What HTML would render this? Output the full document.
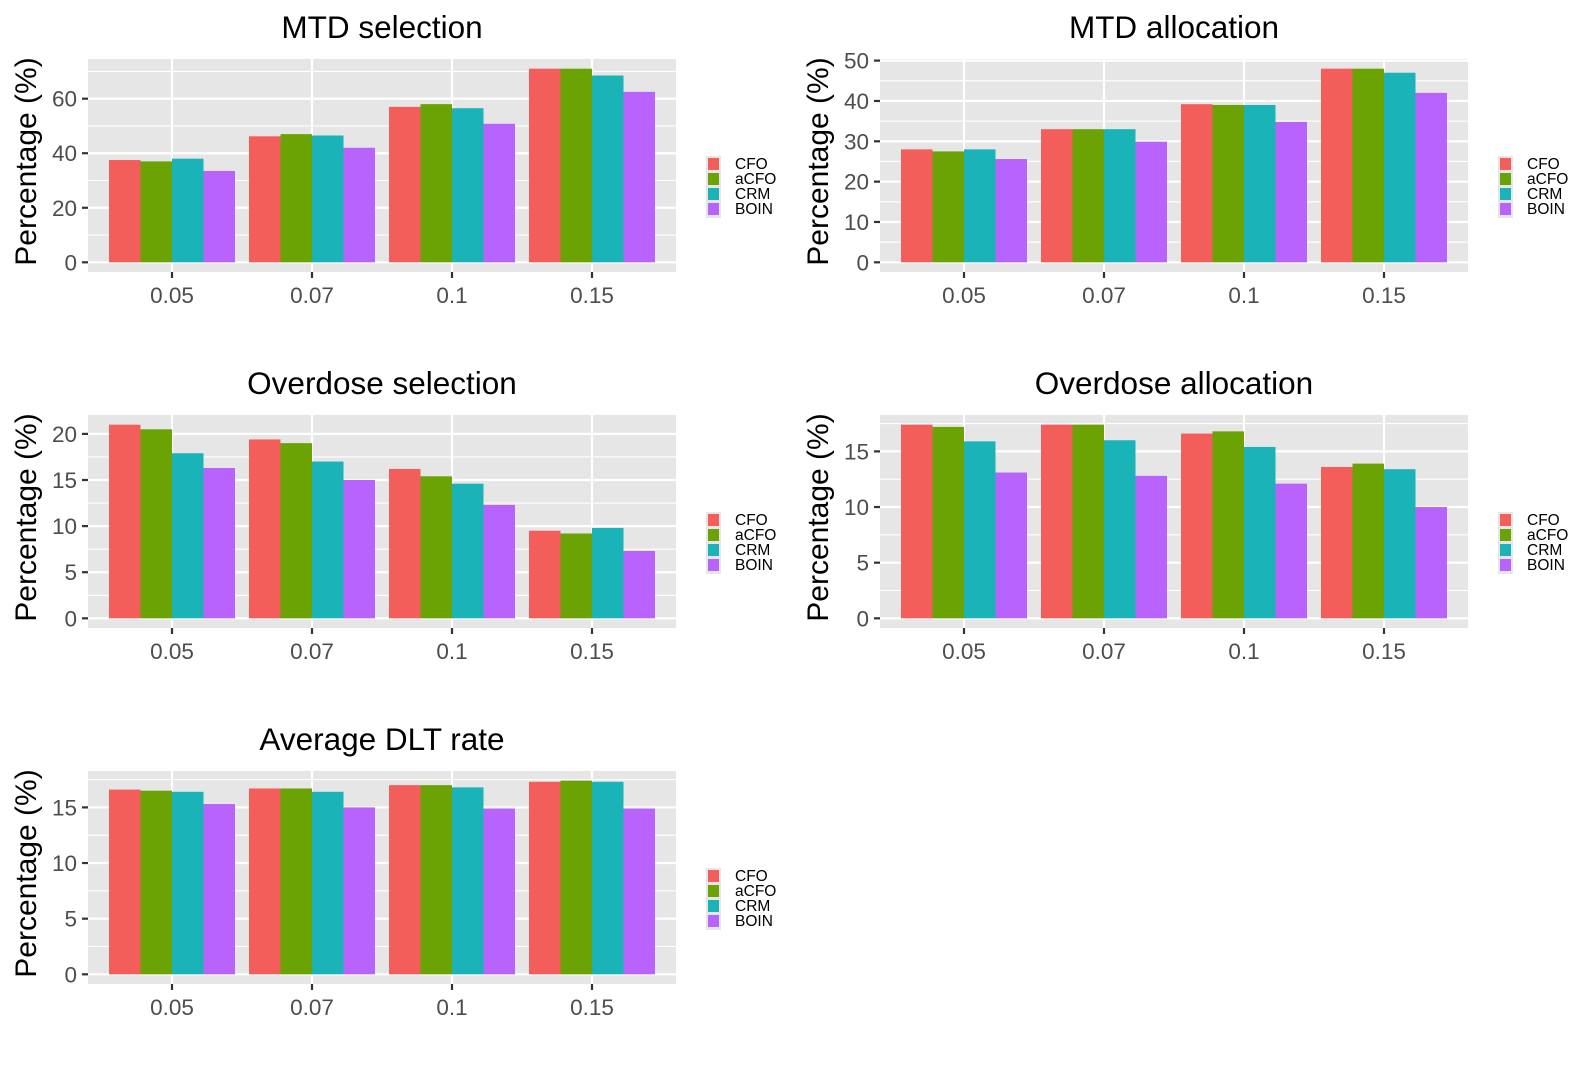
<!DOCTYPE html>
<html><head><meta charset="utf-8"><style>
html,body{margin:0;padding:0;background:#fff;}
svg{display:block;font-family:"Liberation Sans",Arial,sans-serif;}
</style></head><body>
<svg id="chart" width="1584" height="1068" viewBox="0 0 1584 1068" xmlns="http://www.w3.org/2000/svg"></svg>
<script>
const categories = ["0.05","0.07","0.1","0.15"];
const methods = ["CFO","aCFO","CRM","BOIN"];
const barColors = ["#F35E5A","#6BA204","#19B3B8","#B863FC"];
const titles = ["MTD selection","MTD allocation","Overdose selection","Overdose allocation","Average DLT rate"];
const tickStep = [20,10,5,5,5];
const mtdSelection = [[37.5,37,38,33.5],[46.2,47,46.5,42],[57,58,56.5,50.8],[71,71,68.5,62.5]];
const mtdAllocation = [[28,27.5,28,25.6],[33,33,33,29.9],[39.2,39,39,34.8],[48,48,47,42]];
const overdoseSelection = [[21,20.5,17.9,16.3],[19.4,19,17,15],[16.2,15.4,14.6,12.3],[9.5,9.2,9.8,7.3]];
const overdoseAllocation = [[17.4,17.2,15.9,13.1],[17.4,17.4,16,12.8],[16.6,16.8,15.4,12.1],[13.6,13.9,13.4,10]];
const dltRate = [[16.6,16.5,16.4,15.3],[16.7,16.7,16.4,15],[17,17,16.8,14.9],[17.3,17.4,17.3,14.9]];
const panelData = [mtdSelection,mtdAllocation,overdoseSelection,overdoseAllocation,dltRate];

const NS="http://www.w3.org/2000/svg";
const svg=document.getElementById('chart');
function mk(tag,attrs,parent){const e=document.createElementNS(NS,tag);for(const k in attrs)e.setAttribute(k,attrs[k]);(parent||svg).appendChild(e);return e;}

panelData.forEach((data,p)=>{
  const col=p%2,row=Math.floor(p/2);
  const L=col?880:88, W=588, T=59+row*356, H=213, B=T+H;
  const g=mk('g',{});
  
  
  let mx=0;data.forEach(r=>r.forEach(v=>{if(v>mx)mx=v;}));
  const lo=-0.05*mx,hi=1.05*mx;
  const y=v=>B-(v-lo)/(hi-lo)*H;
  const step=W/4.2;
  const x=i=>L+(i+1-0.4)*step;
  const bg=mk('rect',{x:L,y:T,width:W,height:H,fill:'#E6E6E6'},g);
  
  
  const ts=tickStep[p];
  for(let v=ts/2;v<hi;v+=ts){if(v>lo)mk('line',{x1:L,x2:L+W,y1:y(v),y2:y(v),stroke:'#fff','stroke-width':1.1},g);}
  for(let v=0;v<hi;v+=ts){
    mk('line',{x1:L,x2:L+W,y1:y(v),y2:y(v),stroke:'#fff','stroke-width':2.2},g);
    mk('line',{x1:L-6,x2:L,y1:y(v),y2:y(v),stroke:'#333','stroke-width':2.2},g);
    const t=mk('text',{x:L-11,y:y(v)+8,'text-anchor':'end','font-size':22.5,fill:'#4D4D4D'},g);
    t.textContent=v;
    
    
  }
  categories.forEach((c,i)=>{
    mk('line',{x1:x(i),x2:x(i),y1:T,y2:B,stroke:'#fff','stroke-width':2.2},g);
    mk('line',{x1:x(i),x2:x(i),y1:B,y2:B+6,stroke:'#333','stroke-width':2.2},g);
    const t=mk('text',{x:x(i),y:B+31,'text-anchor':'middle','font-size':22.5,fill:'#4D4D4D'},g);
    t.textContent=c;
    
    
  });
  const bw=step*0.9/4;
  data.forEach((r,i)=>r.forEach((v,j)=>{
    const b=mk('rect',{x:x(i)-step*0.45+j*bw,y:y(v),width:bw,height:y(0)-y(v),fill:barColors[j]},g);
    
    
  }));
  const tt=mk('text',{x:L+W/2,y:T-21,'text-anchor':'middle','font-size':31.5,fill:'#000'},g);
  tt.textContent=titles[p];
  
  
  const yl=mk('text',{x:0,y:0,'text-anchor':'middle','font-size':30,fill:'#000',transform:`translate(${L-52},${T+H/2-4}) rotate(-90)`},g);
  yl.textContent='Percentage (%)';
  
  
  const lx=L+W+31, ly=T+98;
  const lg=mk('g',{},g);
  
  
  mk('rect',{x:lx-1,y:ly-1,width:15,height:62,fill:'#E6E6E6'},lg);
  methods.forEach((m,j)=>{
    const k=mk('rect',{x:lx+1,y:ly+j*15+1,width:11,height:12,fill:barColors[j]},lg);
    
    
    const t=mk('text',{x:lx+28,y:ly+j*15+12,'font-size':15.5,fill:'#000'},lg);
    t.textContent=m;
    
    
  });
});
</script>
</body></html>
